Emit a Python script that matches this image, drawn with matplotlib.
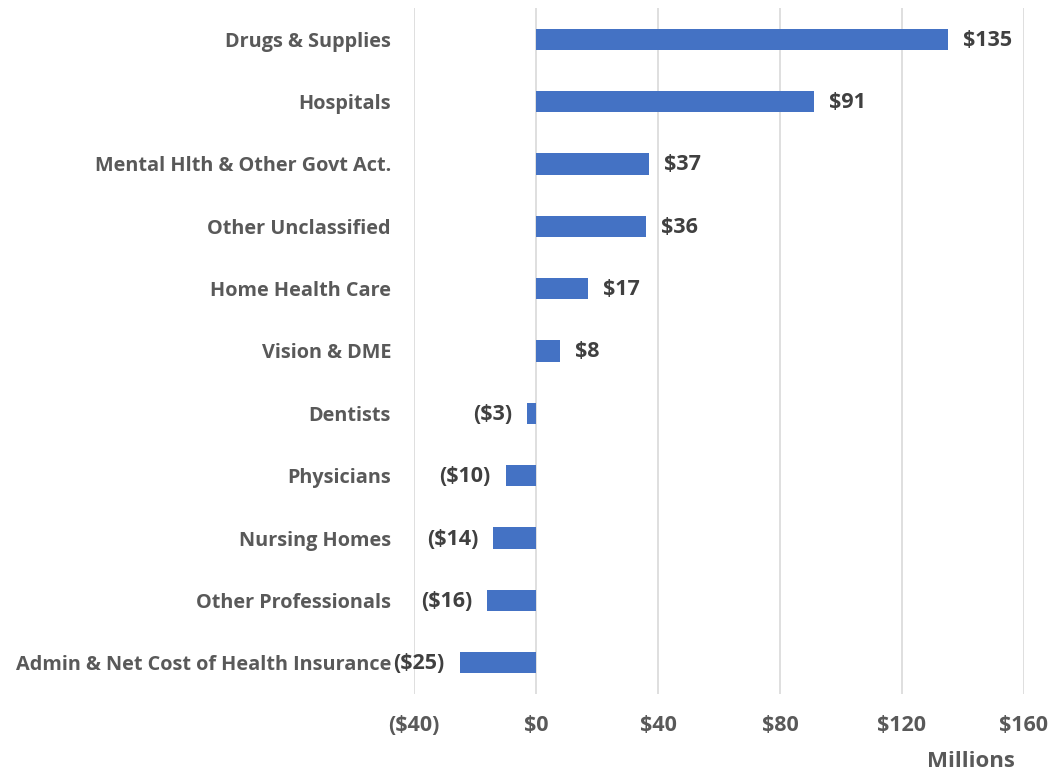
import matplotlib
matplotlib.use("Agg")
import matplotlib.pyplot as plt
from matplotlib.ticker import FuncFormatter
import matplotlib.transforms as mtransforms

categories = ["Drugs & Supplies", "Hospitals", "Mental Hlth & Other Govt Act.",
              "Other Unclassified", "Home Health Care", "Vision & DME", "Dentists",
              "Physicians", "Nursing Homes", "Other Professionals",
              "Admin & Net Cost of Health Insurance"]
values = [135, 91, 37, 36, 17, 8, -3, -10, -14, -16, -25]
xticks = [-40, 0, 40, 80, 120, 160]

FONT = "Open Sans"
GRAY = "#595959"
DARK = "#404040"

def money(v):
    return f"(${abs(v):.0f})" if v < 0 else f"${v:.0f}"

fig = plt.figure(figsize=(10.6, 7.74), dpi=100)
ax = fig.add_axes([414/1060, 80/774, 610/1060, 686/774])

y = list(range(len(categories)))
ax.barh(y, values, height=0.34, color="#4472C4", zorder=3)
ax.set_ylim(len(categories) - 0.5, -0.5)
ax.set_xlim(-40, 160)
ax.set_xticks(xticks)
ax.xaxis.set_major_formatter(FuncFormatter(lambda v, p: money(v)))
ax.grid(axis="x", color="#D9D9D9", linewidth=1.2, zorder=0)
for s in ax.spines.values():
    s.set_visible(False)
ax.tick_params(axis="both", length=0)
ax.tick_params(axis="x", pad=15, labelsize=15.5, labelcolor=GRAY)
ax.set_yticks(y)
ax.set_yticklabels(categories)
ax.tick_params(axis="y", pad=16.5, labelsize=14.3, labelcolor=GRAY)
for lab in ax.get_xticklabels() + ax.get_yticklabels():
    lab.set_fontfamily(FONT)
    lab.set_fontweight("bold")

for yi, v in zip(y, values):
    off = 15 if v >= 0 else -15
    tr = ax.transData + mtransforms.ScaledTranslation(off / 100, -1 / 100, fig.dpi_scale_trans)
    ax.text(v, yi, money(v), transform=tr, ha="left" if v >= 0 else "right",
            va="center", fontsize=15.5, fontweight="bold", color=DARK, fontfamily=FONT)

fig.text(1015/1060, 1 - 772/774, "Millions", ha="right", va="bottom",
         fontsize=16, fontweight="bold", color=GRAY, fontfamily=FONT)

fig.savefig("out.png", dpi=100)
